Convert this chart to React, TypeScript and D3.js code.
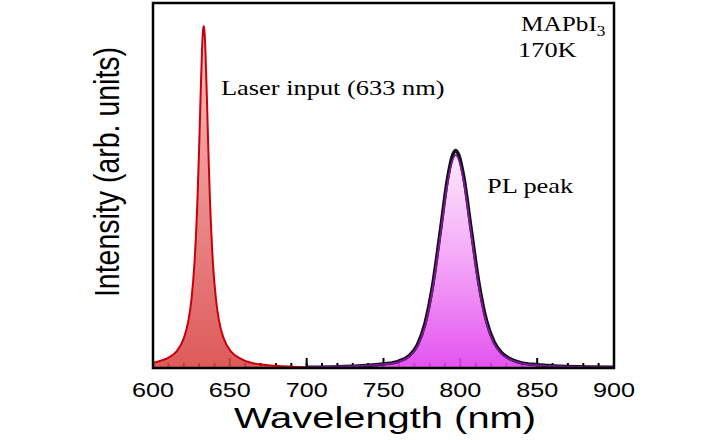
import React from "react";
import * as d3 from "d3";

// Laser line, intensity in arb. units (0-100 frame height)
const laserWl = [600, 605, 610, 615, 620, 623, 625, 627, 629, 630, 631, 632, 632.5, 633, 633.5, 634, 635, 636, 637, 639, 641, 643, 646, 651, 656, 665, 680, 700];
const laserI = [1.4, 2.0, 2.8, 4.4, 8.1, 12.9, 18.7, 28.8, 46.9, 60, 75, 88.2, 92.2, 93.7, 92.2, 88.2, 75, 60, 46.9, 28.8, 18.7, 12.9, 8.1, 4.4, 2.8, 1.3, 0.6, 0.2];

// PL data (measured)
const plWl = [700, 730, 750, 760, 767, 772, 777, 782, 787, 792, 795, 797, 799, 802, 807, 812, 817, 822, 827, 833, 840, 850, 870, 900];
const plI = [0.2, 0.5, 1.0, 1.7, 3.2, 5.8, 11.4, 21.5, 36.2, 51.4, 57.0, 58.3, 57.0, 51.6, 36.8, 22.3, 12.2, 6.6, 3.8, 2.2, 1.3, 0.8, 0.4, 0.2];

// PL fit curve (black)
const fitWl = [700, 730, 750, 760, 767, 772, 777, 782, 787, 792, 795, 797, 799, 802, 807, 812, 817, 822, 827, 833, 840, 850, 870, 900];
const fitI = [0.2, 0.5, 1.1, 1.9, 3.5, 6.3, 12.2, 22.7, 37.6, 52.7, 58.3, 59.6, 58.3, 52.9, 38.2, 23.5, 13.0, 7.1, 4.1, 2.4, 1.4, 0.9, 0.4, 0.2];

const xTicks = [600, 650, 700, 750, 800, 850, 900];
const xMinorTicks = d3.range(600, 901, 10);

const W = 726;
const H = 440;
const L = 153, R = 614, T = 3, B = 368;

export default function App() {
  const x = d3.scaleLinear().domain([600, 900]).range([L, R]);
  const y = d3.scaleLinear().domain([0, 100]).range([B, T]);

  const laser = laserWl.map((w, i) => [w, laserI[i]] as [number, number]);
  const pl = plWl.map((w, i) => [w, plI[i]] as [number, number]);
  const fit = fitWl.map((w, i) => [w, fitI[i]] as [number, number]);

  const area = d3.area<[number, number]>().x(d => x(d[0])).y0(y(0)).y1(d => y(d[1])).curve(d3.curveMonotoneX);
  const line = d3.line<[number, number]>().x(d => x(d[0])).y(d => y(d[1])).curve(d3.curveMonotoneX);

  const sx = 1.2;

  return (
    <svg width={W} height={H} style={{ position: "absolute", left: 0, top: 0, background: "#fff" }}>
      <defs>
        <linearGradient id="gLaser" gradientUnits="userSpaceOnUse" x1="0" y1={y(93.7)} x2="0" y2={B}>
          <stop offset="0" stopColor="#f6b8b8" />
          <stop offset="1" stopColor="#d94444" />
        </linearGradient>
        <linearGradient id="gPL" gradientUnits="userSpaceOnUse" x1="0" y1={y(58.3)} x2="0" y2={B}>
          <stop offset="0" stopColor="#fce6fc" />
          <stop offset="0.5" stopColor="#f29cf6" />
          <stop offset="1" stopColor="#e040ee" />
        </linearGradient>
      </defs>
      <rect x={0} y={0} width={W} height={H} fill="#fff" />

      {/* ticks */}
      {xMinorTicks.map(t => (
        <line key={"m" + t} x1={x(t)} x2={x(t)} y1={B} y2={B - 5} stroke="#000" strokeWidth={2} />
      ))}
      {xTicks.map(t => (
        <line key={"M" + t} x1={x(t)} x2={x(t)} y1={B} y2={B - 10} stroke="#000" strokeWidth={2} />
      ))}

      {/* laser */}
      <path d={area(laser) || ""} fill="url(#gLaser)" opacity={0.88} />
      <path d={line(laser) || ""} fill="none" stroke="#c8000a" strokeWidth={2} />

      {/* PL */}
      <path d={area(pl) || ""} fill="url(#gPL)" opacity={0.9} />
      <path d={line(fit) || ""} fill="none" stroke="#111" strokeWidth={3.5} />
      <path d={line(pl) || ""} fill="none" stroke="#7a1a9a" strokeWidth={1.8} />

      {/* frame */}
      <rect x={L} y={T} width={R - L} height={B - T} fill="none" stroke="#000" strokeWidth={2.5} />

      {/* tick labels */}
      {xTicks.map(t => (
        <text key={"l" + t} transform={`translate(${x(t)},${397}) scale(${sx},1)`} textAnchor="middle"
          fontFamily="Liberation Sans, Arial, sans-serif" fontSize={21} fill="#000">{t}</text>
      ))}

      {/* axis titles */}
      <text transform={`translate(${385},${428}) scale(1.33,1)`} textAnchor="middle"
        fontFamily="Liberation Sans, Arial, sans-serif" fontSize={30} fill="#000">Wavelength (nm)</text>
      <text transform={`translate(${119},${172}) rotate(-90) scale(1,${sx})`} textAnchor="middle"
        fontFamily="Liberation Sans, Arial, sans-serif" fontSize={28.5} fill="#000">Intensity (arb. units)</text>

      {/* annotations */}
      <text transform={`translate(221,95) scale(${sx},1)`} fontFamily="Liberation Serif, Times New Roman, serif" fontSize={22} fill="#000">Laser input (633 nm)</text>
      <text transform={`translate(487,193) scale(${sx},1)`} fontFamily="Liberation Serif, Times New Roman, serif" fontSize={22} fill="#000">PL peak</text>
      <text transform={`translate(521,31) scale(1.15,1)`} fontFamily="Liberation Serif, Times New Roman, serif" fontSize={22} fill="#000">
        MAPbI<tspan fontSize={15} dy={5}>3</tspan>
      </text>
      <text transform={`translate(518,57) scale(${sx},1)`} fontFamily="Liberation Serif, Times New Roman, serif" fontSize={22} fill="#000">170K</text>
    </svg>
  );
}
